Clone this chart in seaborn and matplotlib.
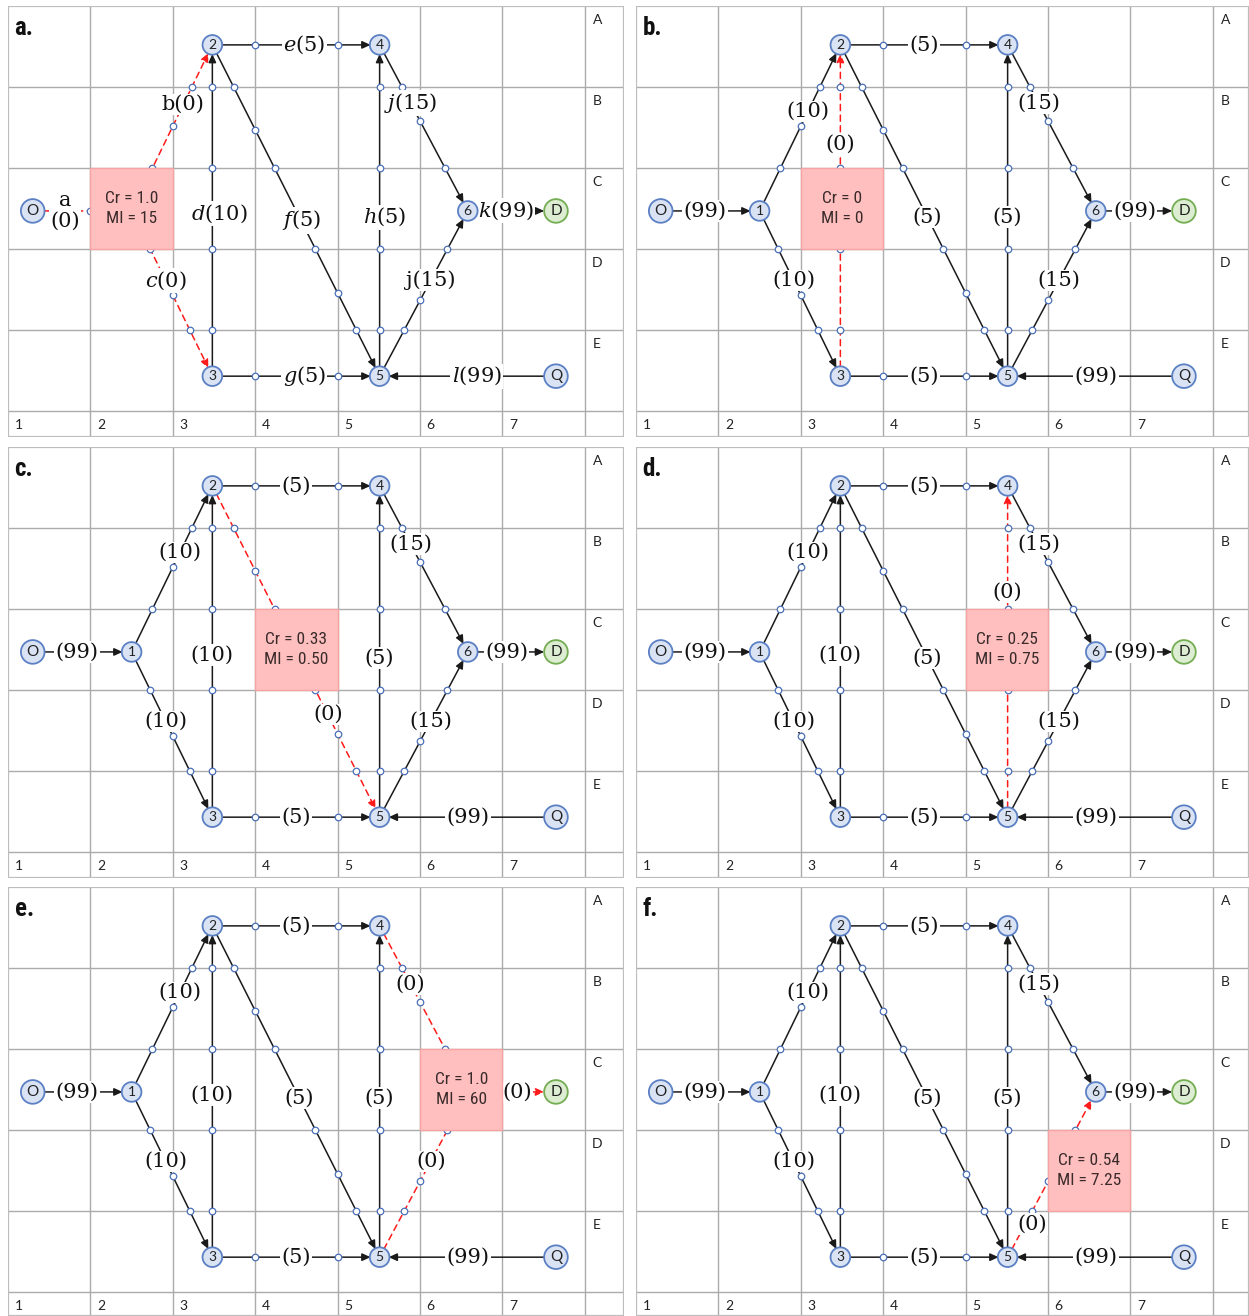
import numpy as np
import pandas as pd
import matplotlib
matplotlib.use("Agg")
import matplotlib.pyplot as plt
import seaborn as sns
from matplotlib.patches import Rectangle

# ---------------- data ----------------
node_names = ["O", "1", "2", "3", "4", "5", "6", "D", "Q"]
node_x = [0.30, 1.50, 2.48, 2.48, 4.51, 4.51, 5.58, 6.65, 6.65]
node_y = [2.53, 2.53, 0.48, 4.57, 0.48, 4.57, 2.53, 2.53, 4.57]

edge_src = ["O", "1", "1", "3", "2", "2", "3", "5", "4", "5", "6", "Q"]
edge_dst = ["1", "2", "3", "2", "4", "5", "5", "4", "6", "6", "D", "5"]
edge_cap = [99, 10, 10, 10, 5, 5, 5, 5, 15, 15, 99, 99]
edge_letter = ["a", "b", "c", "d", "e", "f", "g", "h", "j", "j", "k", "l"]
edge_letter_italic = [False, False, True, True, True, True, True, True, True, False, True, True]
edge_has_waypoints = [True, True, True, True, True, True, True, True, True, True, True, False]

panel_ids = ["a", "b", "c", "d", "e", "f"]
panel_red_edges = [[0, 1, 2], [3], [5], [7], [8, 9, 10], [9]]
box_col = [2, 3, 4, 5, 6, 6]
box_row = ["C", "C", "C", "C", "C", "D"]
box_cr = ["1.0", "0", "0.33", "0.25", "1.0", "0.54"]
box_mi = ["15", "0", "0.50", "0.75", "60", "7.25"]

row_labels = ["A", "B", "C", "D", "E"]
col_labels = ["1", "2", "3", "4", "5", "6", "7"]

# ---------------- layout / style ----------------
label_t = [0.45, 0.60, 0.42, 0.49, 0.50, 0.52, 0.50, 0.48, 0.35, 0.58, 0.44, 0.50]
label_t_override = {("a", 0): 0.33, ("a", 1): 0.64, ("a", 4): 0.55, ("a", 5): 0.53,
                    ("a", 6): 0.55, ("a", 10): 0.43, ("a", 11): 0.45,
                    ("b", 3): 0.70, ("c", 5): 0.69, ("d", 7): 0.68,
                    ("e", 10): 0.56, ("f", 9): 0.20}
label_dx = {("f", 9): 0.08, ("a", 3): 0.08, ("a", 7): 0.06}

W, H = 1249, 1316
PX_X, PX_Y = 82.4, 81.0
panel_px = {"a": (8, 6, 616, 431), "b": (636, 6, 613, 431),
            "c": (8, 447, 616, 431), "d": (636, 447, 613, 431),
            "e": (8, 887, 616, 429), "f": (636, 887, 613, 429)}

sns.set_theme(style="white")
plt.rcParams["font.family"] = ["DejaVu Sans"]
plt.rcParams["mathtext.fontset"] = "dejavuserif"

SERIF = ["DejaVu Serif"]
NARROW = ["Roboto Condensed", "Liberation Sans Narrow", "Roboto", "DejaVu Sans"]
SANS = ["Lato", "Open Sans", "DejaVu Sans"]

GRID = "#ababab"
NODE_FC, NODE_EC = "#dae3f3", "#5b80c4"
D_FC, D_EC = "#dcedd2", "#74ad52"
RED = "#ff1a1a"

pos = {n: (x, y) for n, x, y in zip(node_names, node_x, node_y)}
big_nodes = {"O", "D", "Q"}


def crossings(x0, y0, x1, y1):
    pts = []
    for gx in range(1, 8):
        if (x0 - gx) * (x1 - gx) < 0:
            t = (gx - x0) / (x1 - x0)
            pts.append((gx, y0 + t * (y1 - y0)))
    for gy in range(1, 6):
        if (y0 - gy) * (y1 - gy) < 0:
            t = (gy - y0) / (y1 - y0)
            pts.append((x0 + t * (x1 - x0), gy))
    return pts


fig = plt.figure(figsize=(W / 100, H / 100), dpi=100)

for pi, pid in enumerate(panel_ids):
    px, py, pw, ph = panel_px[pid]
    ax = fig.add_axes([px / W, 1 - (py + ph) / H, pw / W, ph / H])
    xmax, ymax = pw / PX_X, ph / PX_Y
    reds = panel_red_edges[pi]
    bx = box_col[pi] - 1
    by = row_labels.index(box_row[pi])

    # grid
    for gx in range(1, 8):
        ax.plot([gx, gx], [0, ymax], color=GRID, lw=1.0, zorder=1)
    for gy in range(1, 6):
        ax.plot([0, xmax], [gy, gy], color=GRID, lw=1.0, zorder=1)
    ax.add_patch(Rectangle((0, 0), xmax, ymax, fill=False, ec="#bdbdbd", lw=1.6, zorder=1))

    # row / column labels
    for i, r in enumerate(row_labels):
        ax.text(7.15, i + 0.17, r, ha="center", va="center", fontsize=10,
                family=SANS, color="#222222", zorder=2)
    for i, c in enumerate(col_labels):
        ax.text(i + 0.13, 5.17, c, ha="center", va="center", fontsize=10,
                family=SANS, color="#222222", zorder=2)

    # panel letter
    ax.text(0.08, 0.27, pid + ".", ha="left", va="center", fontsize=18,
            fontweight="bold", family=NARROW, color="#111111", zorder=6)

    # edges
    wx, wy = [], []
    for k, (s, d) in enumerate(zip(edge_src, edge_dst)):
        red = k in reds
        x0, y0 = pos[s]
        x1, y1 = pos[d]
        sA = 8.5 if s in big_nodes else 6.5
        sB = 8.5 if d in big_nodes else 6.5
        ax.annotate("", xy=(x1, y1), xytext=(x0, y0),
                    arrowprops=dict(arrowstyle="-|>,head_length=0.55,head_width=0.25",
                                    color=RED if red else "#1a1a1a", lw=1.1,
                                    linestyle=(0, (4, 3)) if red else "-",
                                    shrinkA=sA, shrinkB=sB, mutation_scale=9),
                    zorder=2)
        if edge_has_waypoints[k]:
            for (cx, cy) in crossings(x0, y0, x1, y1):
                wx.append(cx)
                wy.append(cy)

        # label
        t = label_t_override.get((pid, k), label_t[k])
        lx = x0 + t * (x1 - x0) + label_dx.get((pid, k), 0.0)
        ly = y0 + t * (y1 - y0)
        val = 0 if red else edge_cap[k]
        if pid == "a":
            if k == 0:
                txt = "a\n(0)"
            elif edge_letter_italic[k]:
                txt = "$" + edge_letter[k] + "$(" + str(val) + ")"
            else:
                txt = edge_letter[k] + "(" + str(val) + ")"
        else:
            txt = "(" + str(val) + ")"
        ax.text(lx, ly, txt, ha="center", va="center", fontsize=15, family=SERIF,
                color="#111111", linespacing=1.15, zorder=4,
                bbox=dict(boxstyle="square,pad=0.06", fc="white", ec="none"))

    # waypoints
    sns.scatterplot(x=wx, y=wy, s=22, color="white", edgecolor="#4a6fb8",
                    linewidth=0.9, legend=False, zorder=3, ax=ax)

    # nodes
    for group, size in (("big", 290), ("small", 200)):
        names = [n for n in node_names if (n in big_nodes) == (group == "big")]
        xs = [pos[n][0] for n in names]
        ys = [pos[n][1] for n in names]
        fcs = [D_FC if n == "D" else NODE_FC for n in names]
        ecs = [D_EC if n == "D" else NODE_EC for n in names]
        sns.scatterplot(x=xs, y=ys, s=size, c=fcs, edgecolor=ecs, linewidth=1.3,
                        legend=False, zorder=4.5, ax=ax)
    for n in node_names:
        nx_, ny_ = pos[n]
        if bx < nx_ < bx + 1 and by < ny_ < by + 1:
            continue  # node hidden under the failure box
        ax.text(nx_, ny_, n, ha="center", va="center",
                fontsize=11 if n in big_nodes else 10, family=SANS,
                color="#222222", zorder=4.6)

    # failure box
    ax.add_patch(Rectangle((bx, by), 1, 1, fc="#ffbfbf", ec="#f5a3a3", lw=1.0, zorder=5))
    ax.text(bx + 0.5, by + 0.5, "Cr = " + box_cr[pi] + "\nMI = " + box_mi[pi],
            ha="center", va="center", fontsize=12.5, family=NARROW, color="#3a2a2a",
            linespacing=1.35, zorder=6)

    ax.set_xlim(0, xmax)
    ax.set_ylim(ymax, 0)
    ax.axis("off")

fig.savefig("out.png", dpi=100)
